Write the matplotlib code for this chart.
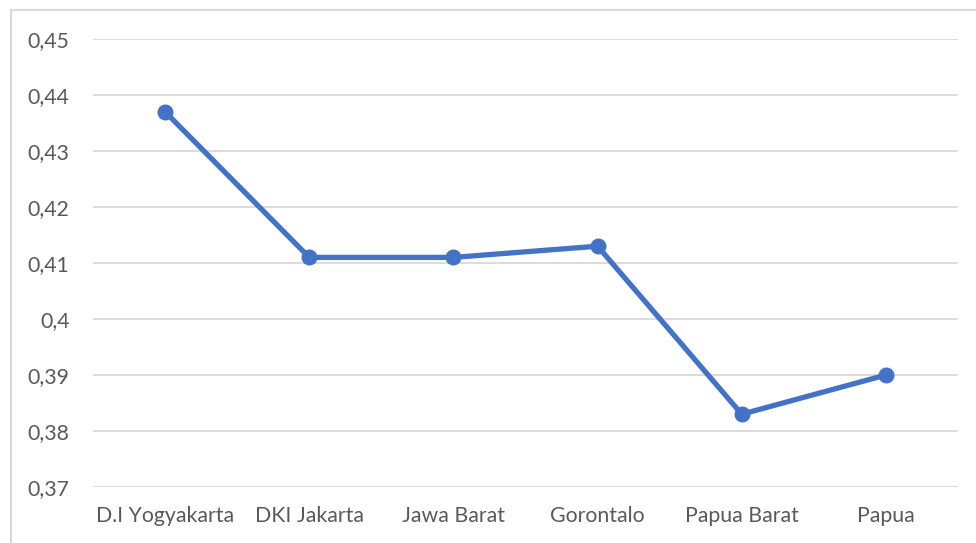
import matplotlib
matplotlib.use("Agg")
import matplotlib.pyplot as plt
from matplotlib.patches import Rectangle
from matplotlib.ticker import FuncFormatter

provinces = ["D.I Yogyakarta", "DKI Jakarta", "Jawa Barat", "Gorontalo", "Papua Barat", "Papua"]
values = [0.437, 0.411, 0.411, 0.413, 0.383, 0.390]
yticks = [0.37, 0.38, 0.39, 0.40, 0.41, 0.42, 0.43, 0.44, 0.45]

plt.rcParams["font.family"] = ["Lato", "DejaVu Sans"]

W, H = 976, 543
fig = plt.figure(figsize=(W / 100, H / 100), dpi=100)
ax = fig.add_axes([93 / W, 1 - 487 / H, (958 - 93) / W, (487 - 39) / H])

# chart frame (cut off at right / bottom like the screenshot)
fig.patches.append(Rectangle((10.5 / W, -0.1), 1.2, 1 - 9.5 / H + 0.1, transform=fig.transFigure,
                             fill=False, edgecolor="#D9D9D9", linewidth=1.5))

x = list(range(len(provinces)))
ax.plot(x, values, color="#4472C4", linewidth=3.8, marker="o", markersize=10.5,
        solid_capstyle="round", zorder=3)

ax.set_xlim(-0.5, len(provinces) - 0.5)
ax.set_ylim(0.37, 0.45)
ax.set_yticks(yticks)
ax.yaxis.set_major_formatter(FuncFormatter(lambda v, p: f"{round(v, 2):g}".replace(".", ",")))
ax.set_xticks(x)
ax.set_xticklabels(provinces)

ax.grid(axis="y", color="#D9D9D9", linewidth=1.3)
ax.set_axisbelow(True)
for s in ax.spines.values():
    s.set_visible(False)
ax.tick_params(length=0, labelsize=15.3, colors="#595959")
ax.tick_params(axis="y", pad=17)
ax.tick_params(axis="x", pad=14)

fig.savefig("out.png", dpi=100)
